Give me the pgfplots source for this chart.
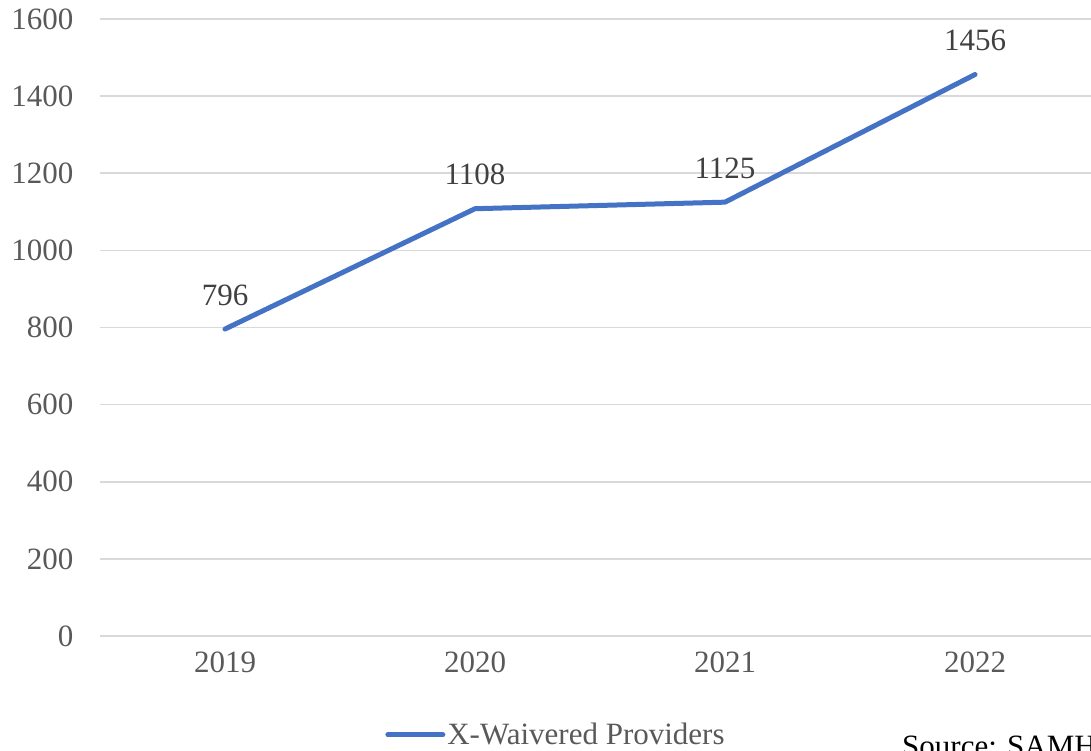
\documentclass[border=0pt]{standalone}
\usepackage{fontspec}
\setmainfont{Liberation Serif}
\usepackage{pgfplots}
\pgfplotsset{compat=1.18}
\definecolor{lineblue}{HTML}{4472C4}
\definecolor{gridgray}{HTML}{D9D9D9}
\definecolor{ticktext}{HTML}{595959}
\definecolor{labeltext}{HTML}{404040}
\newcommand{\chartfont}{\fontsize{31}{37}\selectfont}
\begin{document}
\begin{tikzpicture}[x=1pt,y=1pt]
\path[use as bounding box, clip] (0,0) rectangle (1091,751);
\begin{axis}[
  at={(100pt,115pt)}, anchor=south west,
  scale only axis, width=1000pt, height=617pt,
  xmin=-0.5, xmax=3.5, ymin=0, ymax=1600,
  xtick={0,1,2,3}, xticklabels={2019,2020,2021,2022},
  ytick={0,200,...,1600},
  axis line style={draw=none},
  major tick length=0pt,
  ymajorgrids, major grid style={gridgray, line width=1.6pt},
  font=\chartfont,
  tick label style={ticktext, font=\chartfont},
  /pgf/number format/assume math mode=true,
  /pgf/number format/1000 sep={},
  yticklabel style={xshift=-23pt},
  xticklabel style={yshift=-12pt},
  legend style={draw=none, fill=none, at={(0.456,-0.16)}, anchor=center,
    font=\chartfont, text=ticktext, inner sep=0pt,
    /tikz/every even column/.append style={column sep=0pt}},
  legend image code/.code={\draw[#1, line width=5pt] (0pt,0pt) -- (55pt,0pt);},
  nodes near coords,
  every node near coord/.append style={anchor=base, inner sep=0pt, yshift=24pt,
    text=labeltext, font=\chartfont},
]
\addplot[lineblue, line width=5pt, line cap=round, line join=round, mark=none]
  coordinates {(0,796) (1,1108) (2,1125) (3,1456)};
\addlegendentry{X-Waivered Providers}
\end{axis}
\node[anchor=base west, inner sep=0pt, font=\chartfont, text=black]
  at (902,-6) {Source: SAMHSA};
\end{tikzpicture}
\end{document}
